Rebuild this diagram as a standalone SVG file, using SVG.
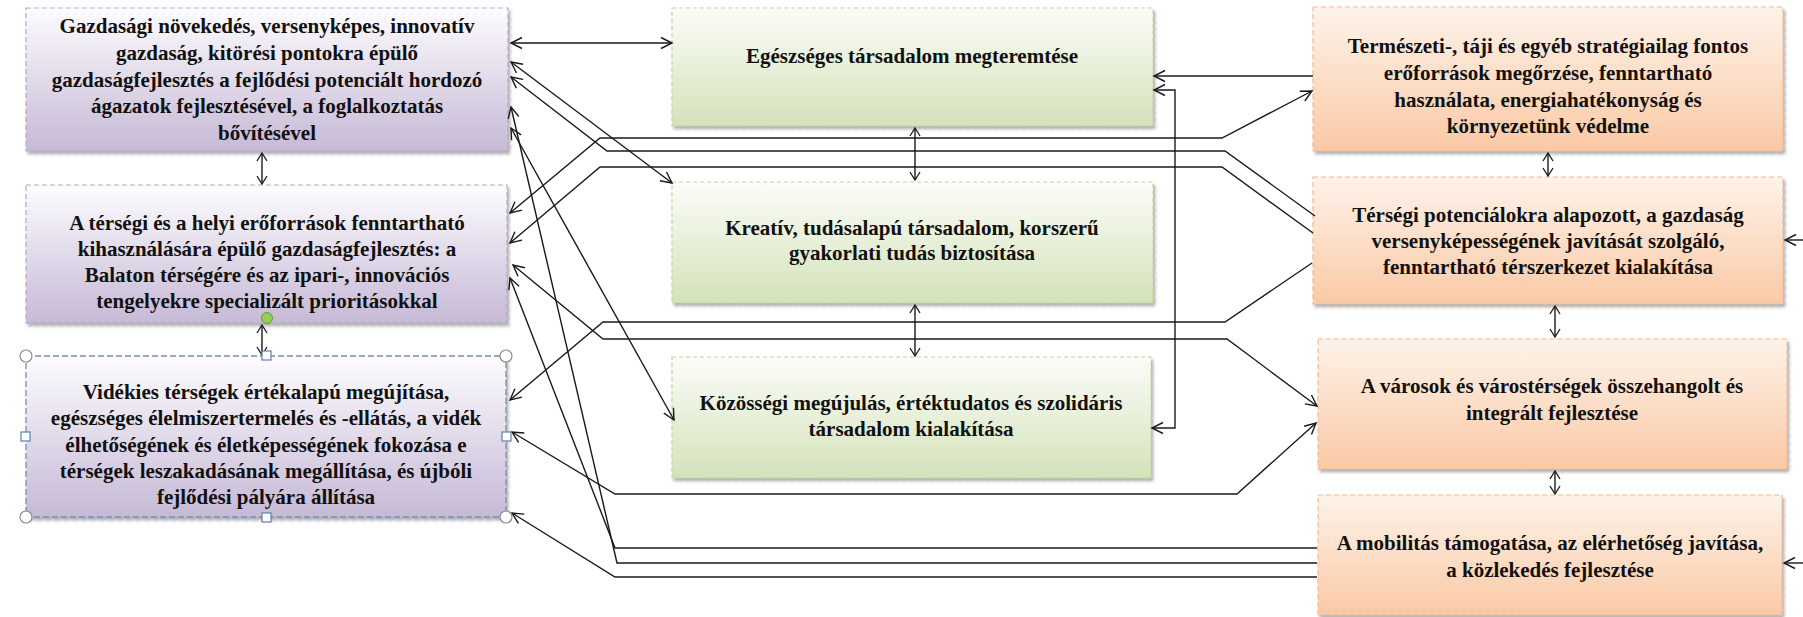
<svg xmlns="http://www.w3.org/2000/svg" width="1803" height="617" viewBox="0 0 1803 617">
<defs>
<linearGradient id="gL" x1="0" y1="0" x2="0" y2="1"><stop offset="0" stop-color="#fdfcfe"/><stop offset="1" stop-color="#c6b9d6"/></linearGradient>
<linearGradient id="gM" x1="0" y1="0" x2="0" y2="1"><stop offset="0" stop-color="#fbfdf8"/><stop offset="1" stop-color="#d4e2ba"/></linearGradient>
<linearGradient id="gR" x1="0" y1="0" x2="0" y2="1"><stop offset="0" stop-color="#fef3ea"/><stop offset="1" stop-color="#fac9a5"/></linearGradient>
<filter id="sh" x="-5%" y="-5%" width="115%" height="120%"><feDropShadow dx="2" dy="3" stdDeviation="1.5" flood-color="#7f7f7f" flood-opacity="0.6"/></filter>
<marker id="ah" viewBox="-13 -8 15 16" refX="0" refY="0" markerWidth="15" markerHeight="16" markerUnits="userSpaceOnUse" orient="auto-start-reverse"><path d="M-11,-5.5 L0,0 L-11,5.5" fill="none" stroke="#1a1a1a" stroke-width="1.4"/></marker>
<marker id="as" viewBox="-10 -7 12 14" refX="0" refY="0" markerWidth="12" markerHeight="14" markerUnits="userSpaceOnUse" orient="auto-start-reverse"><path d="M-8,-5 L0,0 L-8,5" fill="none" stroke="#1a1a1a" stroke-width="1.3"/></marker>
</defs>
<style>
.bL{fill:url(#gL);stroke:#b4a7cc;stroke-width:1.2;stroke-dasharray:5 3;filter:url(#sh)}
.bL3{fill:url(#gL);stroke:#7b8fad;stroke-width:1.3;stroke-dasharray:6 3;filter:url(#sh)}
.bM{fill:url(#gM);stroke:#c2d69b;stroke-width:1.2;stroke-dasharray:4 3;filter:url(#sh)}
.bR{fill:url(#gR);stroke:#f9b98c;stroke-width:1.2;stroke-dasharray:5 3;filter:url(#sh)}
text{font-family:"Liberation Serif","Times New Roman",serif;font-weight:bold;font-size:21px;text-anchor:middle;fill:#111}
.c{fill:none;stroke:#1a1a1a;stroke-width:1.4}
.b{marker-start:url(#ah);marker-end:url(#ah)}
.s{marker-start:url(#ah)}
.e{marker-end:url(#ah)}
.v{marker-start:url(#as);marker-end:url(#as)}
.hc{fill:#fff;stroke:#8c8c8c;stroke-width:1.2}
.hs{fill:#fff;stroke:#5b7fb0;stroke-width:1.2}
</style>

<g id="L1"><rect class="bL" x="26" y="8" width="482" height="143"/>
<text x="267"><tspan x="267" y="33">Gazdasági növekedés, versenyképes, innovatív</tspan><tspan x="267" y="60">gazdaság, kitörési pontokra épülő</tspan><tspan x="267" y="87">gazdaságfejlesztés a fejlődési potenciált hordozó</tspan><tspan x="267" y="113">ágazatok fejlesztésével, a foglalkoztatás</tspan><tspan x="267" y="140">bővítésével</tspan></text></g>

<g id="L2"><rect class="bL" x="26" y="185" width="481" height="138"/>
<text x="267"><tspan x="267" y="230">A térségi és a helyi erőforrások fenntartható</tspan><tspan x="267" y="256">kihasználására épülő gazdaságfejlesztés: a</tspan><tspan x="267" y="282">Balaton térségére és az ipari-, innovációs</tspan><tspan x="267" y="308">tengelyekre specializált prioritásokkal</tspan></text></g>

<g id="L3"><rect class="bL3" x="26" y="356" width="480" height="161"/>
<text x="266"><tspan x="266" y="399">Vidékies térségek értékalapú megújítása,</tspan><tspan x="266" y="425">egészséges élelmiszertermelés és -ellátás, a vidék</tspan><tspan x="266" y="452">élhetőségének és életképességének fokozása e</tspan><tspan x="266" y="478">térségek leszakadásának megállítása, és újbóli</tspan><tspan x="266" y="504">fejlődési pályára állítása</tspan></text></g>

<g id="M1"><rect class="bM" x="672" y="8" width="481" height="118"/>
<text x="912" y="63">Egészséges társadalom megteremtése</text></g>

<g id="M2"><rect class="bM" x="672" y="182" width="481" height="121"/>
<text x="912"><tspan x="912" y="235">Kreatív, tudásalapú társadalom, korszerű</tspan><tspan x="912" y="260">gyakorlati tudás biztosítása</tspan></text></g>

<g id="M3"><rect class="bM" x="672" y="357" width="479" height="121"/>
<text x="911"><tspan x="911" y="410">Közösségi megújulás, értéktudatos és szolidáris</tspan><tspan x="911" y="436">társadalom kialakítása</tspan></text></g>

<g id="R1"><rect class="bR" x="1313" y="7" width="470" height="144"/>
<text x="1548"><tspan x="1548" y="53">Természeti-, táji és egyéb stratégiailag fontos</tspan><tspan x="1548" y="80">erőforrások megőrzése, fenntartható</tspan><tspan x="1548" y="107">használata, energiahatékonyság és</tspan><tspan x="1548" y="133">környezetünk védelme</tspan></text></g>

<g id="R2"><rect class="bR" x="1313" y="177" width="470" height="127"/>
<text x="1548"><tspan x="1548" y="222">Térségi potenciálokra alapozott, a gazdaság</tspan><tspan x="1548" y="248">versenyképességének javítását szolgáló,</tspan><tspan x="1548" y="274">fenntartható térszerkezet kialakítása</tspan></text></g>

<g id="R3"><rect class="bR" x="1318" y="339" width="469" height="130"/>
<text x="1552"><tspan x="1552" y="393">A városok és várostérségek összehangolt és</tspan><tspan x="1552" y="420">integrált fejlesztése</tspan></text></g>

<g id="R4"><rect class="bR" x="1318" y="495" width="464" height="120"/>
<text x="1550"><tspan x="1550" y="550">A mobilitás támogatása, az elérhetőség javítása,</tspan><tspan x="1550" y="577">a közlekedés fejlesztése</tspan></text></g>

<g id="connectors">
<polyline class="c b" points="511,43 672,43"/>
<polyline class="c b" points="511,62 672,183"/>
<polyline class="c s" points="511,77 607,151 1225,151 1315,216"/>
<polyline class="c s" points="511,107 617,563 1317,563"/>
<polyline class="c b" points="511,128 674,420"/>
<polyline class="c b" points="510,213 600,138 1222,138 1312,91"/>
<polyline class="c s" points="510,243 600,167 1222,167 1313,233"/>
<polyline class="c b" points="513,265 603,339 1227,339 1317,406"/>
<polyline class="c s" points="510,278 615,548 1317,548"/>
<polyline class="c s" points="510,400 603,322 1225,322 1312,263"/>
<polyline class="c b" points="512,432 615,494 1237,494 1316,423"/>
<polyline class="c s" points="512,513 615,577 1317,577"/>
<polyline class="c e" points="1313,76 1154,76"/>
<polyline class="c b" points="1154,90 1175,90 1175,428 1152,428"/>
<polyline class="c v" points="262,153 262,184"/>
<polyline class="c v" points="262,325 262,355"/>
<polyline class="c v" points="915,128 915,180"/>
<polyline class="c v" points="915,305 915,356"/>
<polyline class="c v" points="1548,153 1548,176"/>
<polyline class="c v" points="1555,306 1555,337"/>
<polyline class="c v" points="1555,471 1555,494"/>
<polyline class="c e" points="1803,240 1785,240"/>
<polyline class="c e" points="1803,563 1784,563"/>
</g>

<g id="handles">
<circle cx="267" cy="318" r="5.5" fill="#92d050" stroke="#6a9a3a" stroke-width="1"/>
<circle class="hc" cx="26" cy="356" r="6"/>
<circle class="hc" cx="506" cy="356" r="6"/>
<circle class="hc" cx="26" cy="517" r="6"/>
<circle class="hc" cx="506" cy="517" r="6"/>
<rect class="hs" x="262" y="351" width="9" height="9"/>
<rect class="hs" x="262" y="513" width="9" height="9"/>
<rect class="hs" x="21" y="432" width="9" height="9"/>
<rect class="hs" x="502" y="432" width="9" height="9"/>
</g>
</svg>
